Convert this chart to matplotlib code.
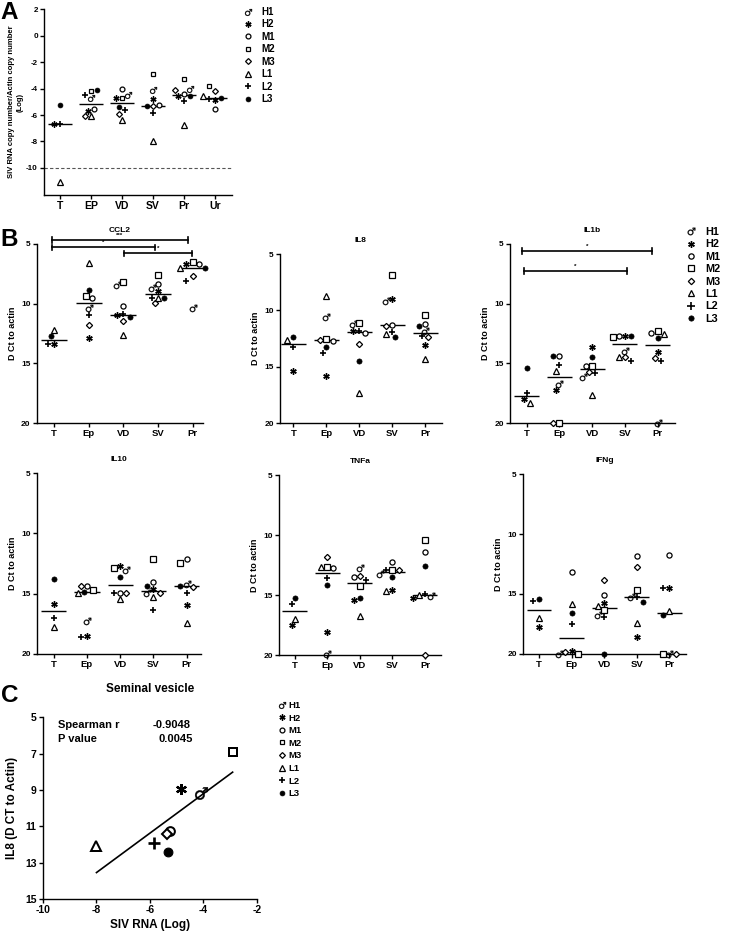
import numpy as np
import matplotlib
matplotlib.use('Agg')
import matplotlib.pyplot as plt
from matplotlib.lines import Line2D

plt.rcParams['font.family'] = ['Liberation Sans', 'DejaVu Sans']
plt.rcParams['font.weight'] = 'bold'
plt.rcParams['axes.titleweight'] = 'bold'
plt.rcParams['axes.labelweight'] = 'bold'
plt.rcParams['axes.unicode_minus'] = False
plt.rcParams['mathtext.fontset'] = 'dejavusans'

nan = np.nan
animals = ['H1', 'H2', 'M1', 'M2', 'M3', 'L1', 'L2', 'L3']
tissues_a = ['T', 'EP', 'VD', 'SV', 'Pr', 'Ur']
tissues_b = ['T', 'Ep', 'VD', 'SV', 'Pr']

# rows = tissue, columns = animals (H1 H2 M1 M2 M3 L1 L2 L3)
siv = [
    [nan, -6.65, nan, nan, nan, -11.06, -6.70, -5.22],
    [-4.74, -5.67, -5.55, -4.21, -6.10, -6.10, -4.47, -4.09],
    [-4.47, -4.72, -4.04, -4.74, -5.92, -6.35, -5.60, -5.40],
    [-4.09, -4.82, -5.25, -2.90, -5.35, -7.99, -5.85, -5.32],
    [-4.04, -4.59, -4.42, -3.28, -4.14, -6.73, -4.97, -4.59],
    [nan, -4.84, -5.55, -3.84, -4.21, -4.54, -4.79, -4.72],
]
ccl2 = [
    [nan, 13.39, nan, nan, nan, 12.19, 13.39, 12.67],
    [10.38, 12.89, 9.49, 9.35, 11.77, 6.62, 10.94, 8.85],
    [8.43, 10.94, 10.16, 8.15, 11.44, 12.61, 10.88, 11.08],
    [8.71, 8.90, 8.37, 7.59, 9.96, 9.49, 9.49, 9.54],
    [10.38, 6.67, 6.70, 6.53, 7.65, 6.98, 8.09, 7.04],
]
il8 = [
    [nan, 15.36, nan, nan, nan, 12.66, 13.28, 12.37],
    [10.59, 15.80, 12.75, 12.51, 12.60, 8.76, 13.79, 13.28],
    [11.18, 11.86, 12.01, 11.12, 12.96, 17.34, 11.80, 14.47],
    [9.14, 8.96, 11.27, 6.89, 11.42, 12.10, 11.92, 12.40],
    [11.80, 13.10, 11.21, 10.38, 12.37, 14.30, 12.31, 11.42],
]
il1b = [
    [nan, 17.96, nan, nan, nan, 18.33, 17.49, 15.40],
    [16.74, 17.21, 14.37, 20.0, 20.0, 15.62, 15.12, 14.37],
    [16.18, 13.67, 15.26, 15.26, 15.76, 17.63, 15.82, 14.51],
    [13.95, 12.75, 12.75, 12.83, 14.51, 14.51, 14.79, 12.75],
    [20.0, 14.09, 12.47, 12.33, 14.56, 12.55, 14.84, 12.89],
]
il10 = [
    [nan, 15.86, nan, nan, nan, 17.79, 17.04, 13.78],
    [17.27, 18.51, 14.36, 14.70, 14.36, 14.92, 18.56, 14.83],
    [13.04, 12.71, 14.92, 12.90, 14.97, 15.47, 14.92, 13.65],
    [14.97, 14.64, 14.00, 12.15, 14.97, 15.30, 16.35, 14.36],
    [14.20, 15.94, 12.13, 12.43, 14.42, 17.46, 14.97, 14.36],
]
tnfa = [
    [nan, 17.52, nan, nan, nan, 17.02, 15.71, 15.21],
    [19.94, 18.08, 12.79, 12.70, 11.81, 12.70, 13.62, 14.18],
    [12.79, 15.40, 13.48, 14.29, 13.40, 16.74, 13.73, 15.26],
    [13.26, 14.60, 12.23, 12.92, 12.92, 14.65, 12.92, 13.48],
    [15.10, 15.29, 11.39, 10.39, 20.0, 15.01, 14.93, 12.62],
]
ifng = [
    [nan, 17.72, nan, nan, nan, 17.03, 15.56, 15.44],
    [20.0, 19.72, 13.14, 20.0, 19.83, 15.83, 17.53, 16.61],
    [16.75, 15.72, 15.08, 16.33, 13.83, 16.00, 16.89, 20.0],
    [15.28, 18.61, 11.81, 14.67, 12.72, 17.39, 15.22, 15.64],
    [20.0, 14.53, 11.75, 20.0, 20.0, 16.42, 14.53, 16.75],
]
ccl2_sig = [(-0.07, 3.88, 4.67, '***'), (-0.07, 2.91, 5.28, '*'), (2.02, 3.97, 5.78, '*')]
il1b_sig = [(-0.15, 3.82, 5.59, '*'), (-0.07, 3.05, 7.26, '*')]
spearman_r = '-0.9048'
p_value = '0.0045'

markers = ['$\u2642$', (6, 2, 0), 'o', 's', 'D', '^', '+', 'o']
faces = ['black', 'black', 'white', 'white', 'white', 'white', 'black', 'black']
scales = [1.45, 1.25, 1.0, 1.0, 0.85, 1.1, 1.35, 1.0]
mews = [0.2, 1.0, 0.9, 0.9, 0.9, 0.9, 1.2, 0.5]

W, H = 730, 933
fig = plt.figure(figsize=(7.3, 9.33), dpi=100)


def box(l, t, r, b):
    return fig.add_axes([l / W, 1 - b / H, (r - l) / W, (b - t) / H])


def style(i, ms, mw=1.0):
    return dict(marker=markers[i], ms=ms * scales[i], mfc=faces[i], mec='black',
                mew=mews[i] * mw, ls='none', color='black')


def swarm(vals, cat_px, unit_px, diam):
    offs = np.zeros(len(vals))
    placed = []
    for i in np.argsort(vals):
        if np.isnan(vals[i]):
            continue
        y = vals[i] * unit_px
        pos = 0.0
        for k in range(15):
            cands = [0.0] if k == 0 else [-k * diam / 2, k * diam / 2]
            good = [x for x in cands
                    if all(np.hypot(x - px, y - py) >= diam for px, py in placed)]
            if good:
                pos = good[0]
                break
        placed.append((pos, y))
        offs[i] = pos / cat_px
    return offs


def clean(ax, fs_y, fs_x):
    for s in ['top', 'right']:
        ax.spines[s].set_visible(False)
    for s in ['left', 'bottom']:
        ax.spines[s].set_linewidth(1.0)
    ax.tick_params(direction='out', length=3, width=1, pad=1.5)
    ax.tick_params(axis='y', labelsize=fs_y)
    ax.tick_params(axis='x', labelsize=fs_x)
    for lab in ax.get_xticklabels() + ax.get_yticklabels():
        lab.set_fontweight('bold')


def dots(ax, data, ms):
    bb = ax.get_position()
    x0, x1 = ax.get_xlim()
    y0, y1 = ax.get_ylim()
    cat_px = bb.width * W / abs(x1 - x0)
    unit_px = bb.height * H / abs(y1 - y0)
    for j, row in enumerate(data):
        row = np.array(row, float)
        offs = swarm(row, cat_px, unit_px, 6.2)
        for i in range(len(animals)):
            if np.isnan(row[i]):
                continue
            ax.plot(j + offs[i], row[i], clip_on=False, zorder=3, **style(i, ms))
        ax.hlines(np.nanmedian(row), j - 0.38, j + 0.38, color='black', lw=1.0, zorder=2)


def brackets(ax, specs):
    for x0, x1, y, lab in specs:
        ax.plot([x0, x1], [y, y], color='black', lw=1.2, clip_on=False)
        for x in (x0, x1):
            ax.plot([x, x], [y - 0.22, y + 0.22], color='black', lw=1.2, clip_on=False)
        ax.text((x0 + x1) / 2, y - 0.2, lab, ha='center', va='bottom', fontsize=4.5)


def legend(handles_ms, left, top, fs, hl, htp, ls):
    hs = [Line2D([], [], **style(i, handles_ms)) for i in range(len(animals))]
    fig.legend(hs, animals, loc='upper left', bbox_to_anchor=(left / W, 1 - top / H),
               frameon=False, prop={'size': fs, 'weight': 'bold'}, handlelength=hl,
               handletextpad=htp, labelspacing=ls, borderpad=0, borderaxespad=0,
               numpoints=1)


# ---- panel A
axA = box(44, 9.3, 232, 195)
axA.set_xlim(-0.52, 5.55)
axA.set_ylim(-12.05, 2)
axA.set_yticks(np.arange(-10, 3, 2))
axA.set_xticks(range(len(tissues_a)))
axA.set_xticklabels(tissues_a)
clean(axA, 5.8, 7.5)
axA.axhline(-10, color='#555555', lw=0.8, ls=(0, (3, 2)))
dots(axA, siv, 3.5)
axA.set_ylabel('SIV RNA copy number/Actin copy number\n(Log)', fontsize=5.5, linespacing=1.3)
axA.yaxis.set_label_coords(-0.11, 0.5)
legend(3.5, 243, 7, 7, 1.0, 0.9, 0.25)

# ---- panel B
b_panels = [
    ('CCL2', ccl2, (36.7, 244, 203, 423), (-0.5, 4.3), ccl2_sig),
    ('IL8', il8, (280, 254, 441.7, 423), (-0.405, 4.5), None),
    ('IL1b', il1b, (510, 244, 675, 423), (-0.51, 4.53), il1b_sig),
    ('IL10', il10, (37, 473, 201, 654), (-0.5, 4.43), None),
    ('TNFa', tnfa, (279, 475, 441, 655), (-0.48, 4.49), None),
    ('IFNg', ifng, (523, 474, 686, 654), (-0.49, 4.51), None),
]
for name, data, (l, t, r, b), xl, sig in b_panels:
    ax = box(l, t, r, b)
    ax.set_xlim(*xl)
    ax.set_ylim(20, 5)
    ax.set_yticks([5, 10, 15, 20])
    ax.set_xticks(range(len(tissues_b)))
    ax.set_xticklabels(tissues_b)
    clean(ax, 6, 6.8)
    dots(ax, data, 3.7)
    if sig:
        brackets(ax, sig)
    ax.set_title(name, fontsize=6, pad=8.5)
    ax.set_ylabel('D Ct to actin', fontsize=6.5)
    ax.yaxis.set_label_coords(-20 / (r - l), 0.5)
legend(3.8, 686, 227, 7.8, 1.0, 0.8, 0.22)

# ---- panel C
axC = box(42.7, 717.3, 256.7, 899)
sx = np.array(siv[3])
sy = np.array(il8[3])
for i in range(len(animals)):
    axC.plot(sx[i], sy[i], zorder=3, **style(i, 6.3, 1.6))
coef = np.polyfit(sx, sy, 1)
xs = np.array([sx.min(), sx.max()])
axC.plot(xs, np.polyval(coef, xs), color='black', lw=1.2)
axC.set_xlim(-10, -2)
axC.set_ylim(15, 5)
axC.set_xticks([-10, -8, -6, -4, -2])
axC.set_yticks([5, 7, 9, 11, 13, 15])
clean(axC, 7.5, 7.5)
axC.set_xlabel('SIV RNA (Log)', fontsize=8.5)
axC.xaxis.set_label_coords(0.5, -0.11)
axC.set_ylabel('IL8 (D CT to Actin)', fontsize=8.5)
axC.yaxis.set_label_coords(-0.115, 0.5)
axC.set_title('Seminal vesicle', fontsize=8.5, pad=18)
axC.text(0.07, 0.96, 'Spearman r', transform=axC.transAxes, fontsize=8, va='center')
axC.text(0.07, 0.88, 'P value', transform=axC.transAxes, fontsize=8, va='center')
axC.text(0.69, 0.96, spearman_r, transform=axC.transAxes, fontsize=8, va='center', ha='right')
axC.text(0.70, 0.88, p_value, transform=axC.transAxes, fontsize=8, va='center', ha='right')
legend(3.5, 278, 701, 6.8, 0.8, 0.34, 0.38)

for letter, yb in [('A', 19.3), ('B', 245.7), ('C', 701.7)]:
    fig.text(0.5 / W, 1 - yb / H, letter, fontsize=17.5, fontweight='bold', va='baseline')

fig.savefig('out.png', dpi=100)
